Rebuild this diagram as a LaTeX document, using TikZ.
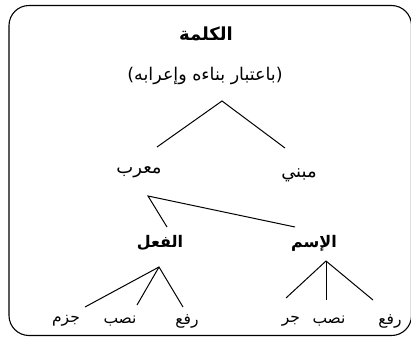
\documentclass[tikz,border=0pt]{standalone}
\usepackage{fontspec}
\TeXXeTstate=1
\newfontfamily\arabicfont[Script=Arabic]{DejaVu Sans}
\tikzset{
  lbl/.style={font=\arabicfont\fontsize{18}{20}\selectfont, inner sep=0pt},
  sub/.style={font=\arabicfont\fontsize{17.5}{20}\selectfont, inner sep=0pt},
  leaf/.style={font=\arabicfont\fontsize{15.5}{18}\selectfont, inner sep=0pt},
  bold/.style={font=\arabicfont\bfseries\fontsize{16}{18}\selectfont, inner sep=0pt},
  ttl/.style={font=\arabicfont\bfseries\fontsize{18}{20}\selectfont, inner sep=0pt},
  edge/.style={line width=1pt},
  frame/.style={line width=1.1pt, rounded corners=20pt}
}
\begin{document}
\begin{tikzpicture}[x=1pt,y=-1pt]
\useasboundingbox (0,0) rectangle (411,337);
\draw[frame] (9,5.5) rectangle (411.5,335.5);
\node[ttl] (t) at (206,34) {\beginR الكلمة\endR};
\node[sub] (s) at (205,76) {\beginR (باعتبار بناءه وإعرابه)\endR};
\node[lbl] (murab) at (139,172) {\beginR معرب\endR};
\node[lbl] (mabni) at (299,175) {\beginR مبني\endR};
\node[bold] (fil) at (160,243) {\beginR الفعل\endR};
\node[bold] (ism) at (314,243) {\beginR الإسم\endR};
\node[leaf] (f1) at (66,321) {\beginR جزم\endR};
\node[leaf] (f2) at (120,321) {\beginR نصب\endR};
\node[leaf] (f3) at (187,321) {\beginR رفع\endR};
\node[leaf] (i1) at (291,321) {\beginR جر\endR};
\node[leaf] (i2) at (329,321) {\beginR نصب\endR};
\node[leaf] (i3) at (390,321) {\beginR رفع\endR};
\coordinate (a0) at (222,101);
\coordinate (a0l) at (157,147);
\coordinate (a0r) at (285,148);
\coordinate (a1) at (148,196);
\coordinate (a1l) at (167,227);
\coordinate (a1r) at (295,227);
\coordinate (a2) at (159,267);
\coordinate (a2a) at (85,307);
\coordinate (a2b) at (137,305);
\coordinate (a2c) at (183,307);
\coordinate (a3) at (326,261);
\coordinate (a3a) at (286,298);
\coordinate (a3b) at (326,300);
\coordinate (a3c) at (373,300);
\draw[edge] (a0l) -- (a0) -- (a0r);
\draw[edge] (a1l) -- (a1) -- (a1r);
\draw[edge] (a2a) -- (a2) -- (a2c);
\draw[edge] (a2) -- (a2b);
\draw[edge] (a3a) -- (a3) -- (a3c);
\draw[edge] (a3) -- (a3b);
\end{tikzpicture}
\end{document}
